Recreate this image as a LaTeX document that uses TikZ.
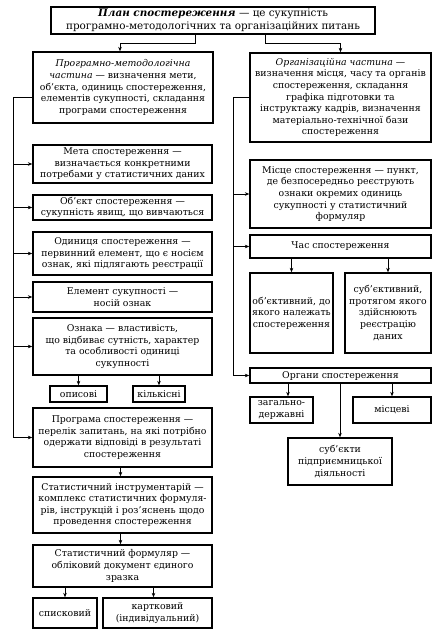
\documentclass[tikz,border=0pt]{standalone}
\usepackage{fontspec}
\setmainfont{DejaVu Serif}
\usetikzlibrary{arrows.meta}
\newcommand\mybox[7][]{\node[box,#1,minimum width={(#5-#3)*1pt},minimum height={(#6-#4)*1pt}] (#2) at ({(#3+#5)/2},{(#4+#6)/2}) {#7};}
\begin{document}
\begin{tikzpicture}[x=1pt,y=-1pt,
 box/.style={draw,line width=1.3pt,align=center,inner sep=0.5pt,font=\fontsize{9.35}{11.6}\selectfont},
 bigbox/.style={font=\fontsize{10.4}{12.8}\selectfont},
 conn/.style={line width=1pt},
 arr/.style={conn,-{Stealth[length=4.5pt,width=3.5pt]}}]
\useasboundingbox[fill=white] (0,0) rectangle (441,635);
% top
\mybox[bigbox]{top}{51}{7}{375}{34}{\textbf{\textit{План спостереження}} — це сукупність\\програмно-методологічних та організаційних питань}
\mybox{pm}{33}{52}{213}{123}{\textit{Програмно-методологічна}\\\textit{частина} — визначення мети,\\об’єкта, одиниць спостереження,\\елементів сукупності, складання\\програми спостереження}
\mybox{org}{250}{53}{431}{142}{\textit{Організаційна частина} —\\визначення місця, часу та органів\\спостереження, складання\\графіка підготовки та\\інструктажу кадрів, визначення\\матеріально-технічної бази\\спостереження}
% left column
\mybox{meta}{33}{145}{212}{183}{Мета спостереження —\\визначається конкретними\\потребами у статистичних даних}
\mybox{obj}{33}{195}{212}{220}{Об’єкт спостереження —\\сукупність явищ, що вивчаються}
\mybox{odyn}{33}{232}{212}{275}{Одиниця спостереження —\\первинний елемент, що є носієм\\ознак, які підлягають реєстрації}
\mybox{elem}{33}{282}{212}{312}{Елемент сукупності —\\носій ознак}
\mybox{ozn}{33}{318}{212}{375}{Ознака — властивість,\\що відбиває сутність, характер\\та особливості одиниці\\сукупності}
\mybox{opys}{50}{386}{107}{402}{описові}
\mybox{kilk}{133}{386}{185}{402}{кількісні}
\mybox{prog}{33}{408}{212}{467}{Програма спостереження —\\перелік запитань, на які потрібно\\одержати відповіді в результаті\\спостереження}
\mybox{instr}{33}{477}{212}{533}{Статистичний інструментарій —\\комплекс статистичних формуля-\\рів, інструкцій і роз’яснень щодо\\проведення спостереження}
\mybox{form}{33}{545}{212}{587}{Статистичний формуляр —\\обліковий документ єдиного\\зразка}
\mybox{spys}{33}{598}{97}{628}{списковий}
\mybox{kart}{103}{598}{212}{628}{картковий\\(індивідуальний)}
% right column
\mybox{mistse}{250}{160}{431}{228}{Місце спостереження — пункт,\\де безпосередньо реєструють\\ознаки окремих одиниць\\сукупності у статистичний\\формуляр}
\mybox{chas}{250}{235}{431}{258}{Час спостереження}
\mybox{objv}{250}{273}{333}{353}{об’єктивний, до\\якого належать\\спостереження}
\mybox{subv}{345}{273}{431}{353}{суб’єктивний,\\протягом якого\\здійснюють\\реєстрацію\\даних}
\mybox{organy}{250}{368}{431}{383}{Органи спостереження}
\mybox{zag}{250}{397}{313}{423}{загально-\\державні}
\mybox{mists}{353}{397}{431}{423}{місцеві}
\mybox{subj}{288}{438}{392}{485}{суб’єкти\\підприємницької\\діяльності}
% top connectors
\coordinate (tl) at (195,43);
\coordinate (tr) at (265,43);
\draw[arr] (tl |- top.south) -- (tl) -| ([xshift=-3pt]pm.north);
\draw[arr] (tr |- top.south) -- (tr) -| (org.north);
% left spine
\coordinate (ls) at (13,97);
\draw[conn] (pm.west |- ls) -- (ls) -- (ls |- prog.west);
\foreach \n in {meta,obj,odyn,elem,ozn,prog} \draw[arr] (ls |- \n.west) -- (\n.west);
% right spine
\coordinate (rs) at (233,97);
\draw[conn] (org.west |- rs) -- (rs) -- (rs |- organy.west);
\foreach \n in {mistse,chas,organy} \draw[arr] (rs |- \n.west) -- (\n.west);
% children
\draw[arr] (opys.north |- ozn.south) -- (opys.north);
\draw[arr] (kilk.north |- ozn.south) -- (kilk.north);
\draw[arr] ([xshift=-2pt]prog.south) -- ([xshift=-2pt]instr.north);
\draw[arr] ([xshift=-2pt]instr.south) -- ([xshift=-2pt]form.north);
\draw[arr] (spys.north |- form.south) -- (spys.north);
\draw[arr] ([xshift=-4pt]kart.north |- form.south) -- ([xshift=-4pt]kart.north);
\draw[arr] (objv.north |- chas.south) -- (objv.north);
\draw[arr] (subv.north |- chas.south) -- (subv.north);
\coordinate (zx) at (288,0);
\draw[arr] (zx |- organy.south) -- (zx |- zag.north);
\draw[arr] (mists.north |- organy.south) -- (mists.north);
\draw[arr] (subj.north |- organy.south) -- (subj.north);
\end{tikzpicture}
\end{document}
